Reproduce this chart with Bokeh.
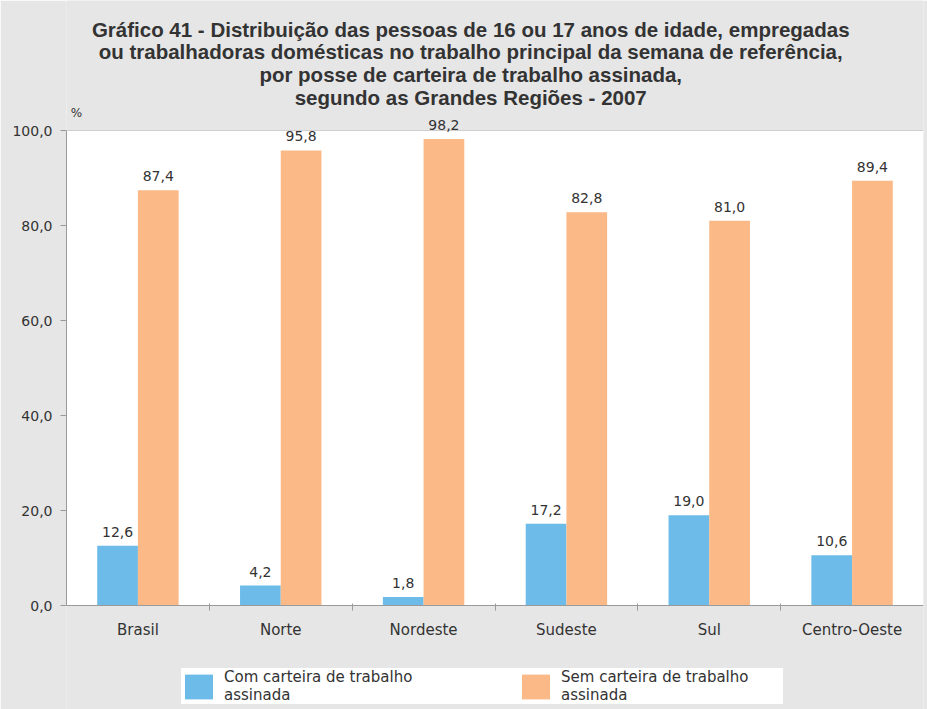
from bokeh.plotting import figure
from bokeh.models import (Range1d, FixedTicker, ColumnDataSource, LabelSet, Label,
                          Legend, LegendItem, Span, BoxAnnotation)
from bokeh.core.properties import value
from bokeh.embed import file_html
from bokeh.resources import INLINE

# ---- data ----
categories = ["Brasil", "Norte", "Nordeste", "Sudeste", "Sul", "Centro-Oeste"]
com_carteira = [12.6, 4.2, 1.8, 17.2, 19.0, 10.6]
sem_carteira = [87.4, 95.8, 98.2, 82.8, 81.0, 89.4]
series_names = ["Com carteira de trabalho\nassinada", "Sem carteira de trabalho\nassinada"]
y_ticks = [0, 20, 40, 60, 80, 100]
y_tick_labels = ["0,0", "20,0", "40,0", "60,0", "80,0", "100,0"]
title_lines = [
    "Gráfico 41 - Distribuição das pessoas de 16 ou 17 anos de idade, empregadas",
    "ou trabalhadoras domésticas no trabalho principal da semana de referência,",
    "por posse de carteira de trabalho assinada,",
    "segundo as Grandes Regiões - 2007",
]
unit_label = "%"

BLUE = "#6dbbe9"
ORANGE = "#fab987"
BG = "#e6e6e6"
TXT = "#333333"
AX = "#9a9a9a"
FONT = "DejaVu Sans"

n = len(categories)
centers = [2 * i + 1 for i in range(n)]
off = 0.285
bw = 0.57

def fmt(v):
    return f"{v:.1f}".replace(".", ",")

src_a = ColumnDataSource(dict(x=[c - off for c in centers], y=com_carteira,
                              lab=[fmt(v) for v in com_carteira]))
src_b = ColumnDataSource(dict(x=[c + off for c in centers], y=sem_carteira,
                              lab=[fmt(v) for v in sem_carteira]))

# frame spans the full height; value axis scale: 4.75 px per percentage point
p = figure(width=927, height=709, output_backend="svg", toolbar_location=None,
           x_range=Range1d(0, 2 * n), y_range=Range1d(-21.89, 127.37),
           min_border=0, min_border_left=66, min_border_right=4,
           min_border_top=0, min_border_bottom=0, title=None)
p.background_fill_color = BG
p.border_fill_color = BG
p.outline_line_color = None
p.xgrid.visible = False
p.ygrid.visible = False

# white plot area between 0 and 100
p.add_layout(BoxAnnotation(bottom=0, top=100, fill_color="white", fill_alpha=1,
                           line_color=None, level="underlay"))

ra = p.vbar(x="x", top="y", width=bw, bottom=0, source=src_a, fill_color=BLUE, line_color=None)
rb = p.vbar(x="x", top="y", width=bw, bottom=0, source=src_b, fill_color=ORANGE, line_color=None)

# top border line of the plot area
p.add_layout(Span(location=100, dimension="width", line_color="#cfcfcf", line_width=1))

# value labels
for s in (src_a, src_b):
    p.add_layout(LabelSet(x="x", y="y", text="lab", source=s, y_offset=9,
                          text_align="center", text_baseline="bottom",
                          text_font=value(FONT), text_font_size="14px", text_color=TXT))

# x axis pinned at y = 0
xa = p.xaxis[0]
xa.fixed_location = 0
xa.ticker = FixedTicker(ticks=centers, minor_ticks=[2 * i for i in range(1, n)])
xa.major_label_overrides = {c: lab for c, lab in zip(centers, categories)}
xa.major_tick_out = 0
xa.major_tick_in = 0
xa.minor_tick_in = 2
xa.minor_tick_out = 5
xa.minor_tick_line_color = AX
xa.axis_line_color = AX
xa.major_label_standoff = 10
xa.major_label_text_font = FONT
xa.major_label_text_font_size = "15px"
xa.major_label_text_color = TXT

# y axis, limited to 0..100
ya = p.yaxis[0]
ya.bounds = (0, 100)
ya.ticker = FixedTicker(ticks=y_ticks, minor_ticks=[])
ya.major_label_overrides = {t: lab for t, lab in zip(y_ticks, y_tick_labels)}
ya.major_tick_out = 6
ya.major_tick_in = 0
ya.major_tick_line_color = AX
ya.axis_line_color = AX
ya.minor_tick_line_color = None
ya.major_label_standoff = 8
ya.major_label_text_font = FONT
ya.major_label_text_font_size = "14px"
ya.major_label_text_color = TXT

# unit label
p.add_layout(Label(x=0.06, y=103.6, text=unit_label, text_font=FONT, text_font_size="12px",
                   text_color=TXT, text_align="left", text_baseline="middle"))

# title lines
title_y = [121.26, 116.63, 111.79, 106.95]
for line, ty in zip(title_lines, title_y):
    p.add_layout(Label(x=5.66, y=ty, text=line, text_font="Liberation Sans",
                       text_font_style="bold", text_font_size="20.5px", text_color=TXT,
                       text_align="center", text_baseline="middle"))

# legend
legend = Legend(items=[LegendItem(label=series_names[0], renderers=[ra]),
                       LegendItem(label=series_names[1], renderers=[rb])],
                orientation="horizontal", location=(115, 5),
                background_fill_color="white", background_fill_alpha=1,
                border_line_color=None, padding=5, spacing=72, margin=0,
                glyph_width=35, glyph_height=31, label_standoff=8, label_width=222,
                label_text_font=FONT, label_text_font_size="15px",
                label_text_color=TXT, label_text_line_height=1.13)
p.add_layout(legend, "center")

open("out.html", "w").write(file_html(p, INLINE))
